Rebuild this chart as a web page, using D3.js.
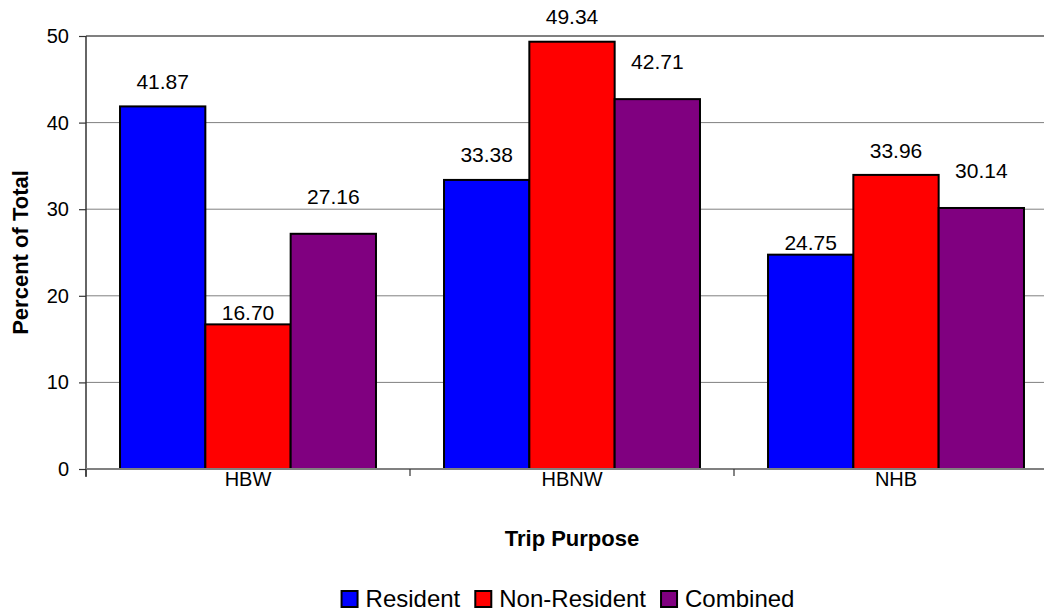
<!DOCTYPE html>
<html>
<head>
<meta charset="utf-8">
<script src="https://cdn.jsdelivr.net/npm/d3@7"></script>
<style>
  html, body { margin: 0; padding: 0; background: #fff; }
  svg { display: block; font-family: Arial, "Liberation Sans", sans-serif; }
</style>
</head>
<body>
<svg id="chart" width="1044" height="611"></svg>
<script>
// Trip purpose shares (percent of total trips)
const categories = ["HBW", "HBNW", "NHB"];
const seriesNames = ["Resident", "Non-Resident", "Combined"];
const resident = [41.87, 33.38, 24.75];
const nonResident = [16.70, 49.34, 33.96];
const combined = [27.16, 42.71, 30.14];
const yTicks = [0, 10, 20, 30, 40, 50];

const seriesValues = [resident, nonResident, combined];
const colors = ["#0000FF", "#FF0000", "#800080"];

// distance (px) between a bar top and its label baseline
const labelLift = [
  [17, 18, 5],
  [4, 18, 17],
  [30, 30, 30]
];

const svg = d3.select("#chart");
const plot = { left: 86, right: 1058, top: 36, bottom: 469 };

const x0 = d3.scaleBand()
  .domain(categories)
  .range([plot.left, plot.right])
  .paddingInner(0.21)
  .paddingOuter(0.105);

const x1 = d3.scaleBand()
  .domain(seriesNames)
  .range([0, x0.bandwidth()]);

const y = d3.scaleLinear().domain([0, 50]).range([plot.bottom, plot.top]);

// gridlines
svg.append("g")
  .selectAll("line")
  .data(yTicks.filter(d => d > 0))
  .join("line")
  .attr("x1", plot.left).attr("x2", plot.right)
  .attr("y1", d => y(d)).attr("y2", d => y(d))
  .attr("stroke", "#808080")
  .attr("stroke-width", d => d === 50 ? 2 : 1);

// bars
const rows = [];
categories.forEach((c, ci) => {
  seriesNames.forEach((s, si) => {
    rows.push({ cat: c, ser: s, si, ci, value: seriesValues[si][ci] });
  });
});

svg.append("g")
  .selectAll("rect")
  .data(rows)
  .join("rect")
  .attr("x", d => x0(d.cat) + x1(d.ser))
  .attr("y", d => y(d.value))
  .attr("width", x1.bandwidth())
  .attr("height", d => y(0) - y(d.value))
  .attr("fill", d => colors[d.si])
  .attr("stroke", "#000")
  .attr("stroke-width", 2);

// value labels
svg.append("g")
  .selectAll("text")
  .data(rows)
  .join("text")
  .attr("x", d => x0(d.cat) + x1(d.ser) + x1.bandwidth() / 2)
  .attr("y", d => y(d.value) - labelLift[d.si][d.ci])
  .attr("text-anchor", "middle")
  .attr("font-size", 21)
  .attr("fill", "#000")
  .text(d => d.value.toFixed(2));

// y axis
const yAxis = d3.axisLeft(y).tickValues(yTicks).tickSize(7).tickPadding(10).tickFormat(d3.format("d"));
const gy = svg.append("g").attr("transform", `translate(${plot.left},0)`).call(yAxis);
gy.select(".domain").attr("stroke", "#333").attr("stroke-width", 1.5).attr("d", `M0,${plot.top}V${plot.bottom + 8}`);
gy.selectAll(".tick line").attr("stroke", "#333").attr("stroke-width", 1.2);
gy.selectAll(".tick text").attr("font-size", 20).attr("fill", "#000")
  .attr("font-family", 'Arial, "Liberation Sans", sans-serif');

// x axis baseline and category boundary ticks
svg.append("line")
  .attr("x1", plot.left).attr("x2", plot.right)
  .attr("y1", y(0)).attr("y2", y(0))
  .attr("stroke", "#808080").attr("stroke-width", 2);

const boundaries = categories.map(c => x0(c) - x0.step() * x0.paddingInner() / 2);
svg.append("g")
  .selectAll("line")
  .data(boundaries)
  .join("line")
  .attr("x1", d => d).attr("x2", d => d)
  .attr("y1", y(0)).attr("y2", y(0) + 7)
  .attr("stroke", "#333").attr("stroke-width", 1.2);

svg.append("g")
  .selectAll("text")
  .data(categories)
  .join("text")
  .attr("x", d => x0(d) + x0.bandwidth() / 2)
  .attr("y", plot.bottom + 17)
  .attr("text-anchor", "middle")
  .attr("font-size", 20)
  .text(d => d);

// axis titles
svg.append("text")
  .attr("x", (plot.left + plot.right) / 2)
  .attr("y", 546)
  .attr("text-anchor", "middle")
  .attr("font-size", 22)
  .attr("font-weight", "bold")
  .text("Trip Purpose");

svg.append("text")
  .attr("transform", `translate(28,${(plot.top + plot.bottom) / 2}) rotate(-90)`)
  .attr("text-anchor", "middle")
  .attr("font-size", 22)
  .attr("font-weight", "bold")
  .text("Percent of Total");

// legend
const legend = svg.append("g");
const items = legend.selectAll("g")
  .data(seriesNames)
  .join("g");
items.append("rect")
  .attr("width", 16).attr("height", 16)
  .attr("y", 591)
  .attr("fill", (d, i) => colors[i])
  .attr("stroke", "#000").attr("stroke-width", 2);
items.append("text")
  .attr("x", 24)
  .attr("y", 607)
  .attr("font-size", 24)
  .text(d => d);

let cursor = 0;
const widths = [];
items.each(function () {
  const w = 24 + d3.select(this).select("text").node().getComputedTextLength();
  widths.push(w);
});
const gap = 15;
const total = d3.sum(widths) + gap * (widths.length - 1);
const start = 568 - total / 2;
items.attr("transform", (d, i) => {
  const xPos = start + cursor;
  cursor += widths[i] + gap;
  return `translate(${xPos},0)`;
});
</script>
</body>
</html>
